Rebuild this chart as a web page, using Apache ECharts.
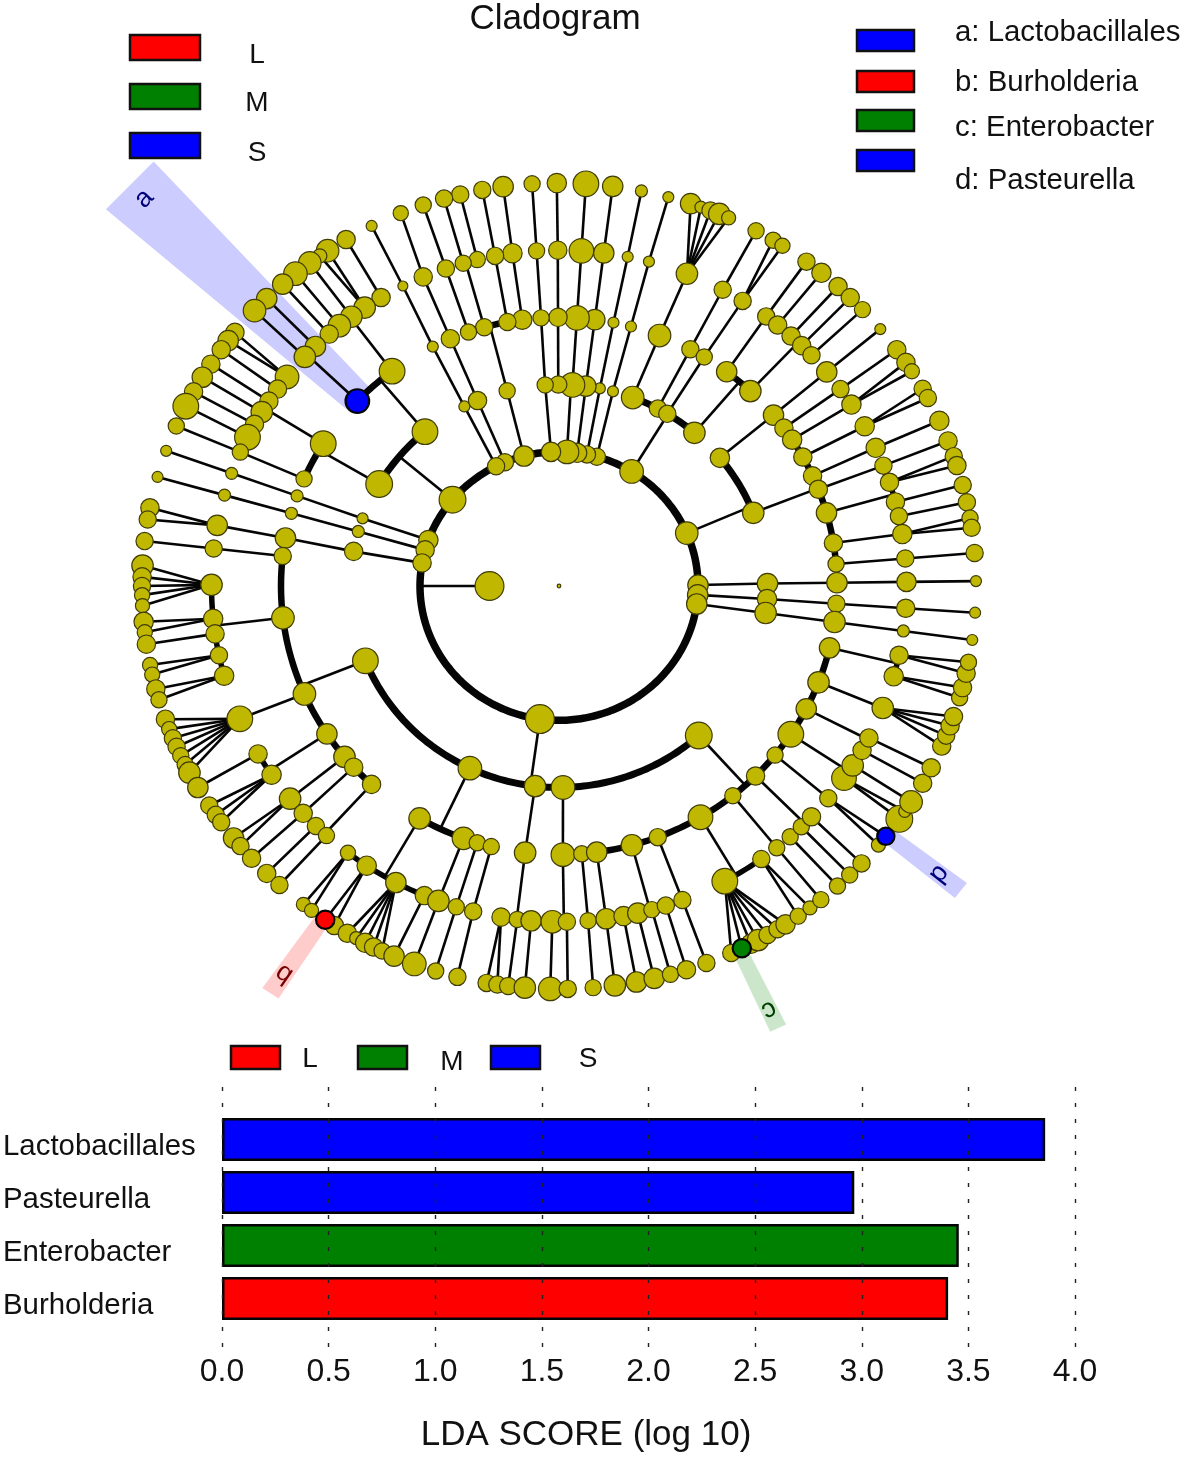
<!DOCTYPE html>
<html>
<head>
<meta charset="utf-8">
<style>html,body{margin:0;padding:0;background:#fff}#chart{width:1184px;height:1457px}</style>
<script src="https://cdn.jsdelivr.net/npm/echarts@6/dist/echarts.min.js"></script>
</head>
<body>
<div id="chart"></div>
<script>
// Clade tables: [angle in degrees, abundance, angle of the parent clade in the previous ring]
const ring1Clades = [[180,27]];
const ring2Clades = [[0.4,19,180],[356.2,19,180],[352.3,19,180],[23.2,21,180],[58.5,22,180],[74.2,16,180],[78.4,16,180],[82.5,18,180],[86.7,22,180],[93.3,18,180],[104.6,19,180],[112.9,16,180],[116.9,16,180],[140,25,180],[160,18,180],[164.4,17,180],[170.1,17,180],[262.1,27,180]];
const ring3Clades = [[0.7,19,0.4],[356.3,18,356.2],[352.3,20,352.3],[39.5,18,23.2],[21.3,20,23.2],[69.3,21,58.5],[61.7,16,58.5],[58.7,16,58.5],[49.5,20,58.5],[75,10,74.2],[78.7,10,78.4],[82.6,19,82.5],[86.3,23,86.7],[90.2,16,86.7],[93.8,15,93.3],[104.4,15,104.6],[113,17,112.9],[117,10,116.9],[130,24,140],[149.6,25,140],[160.4,10,160],[164.3,11,164.4],[170.1,17,170.1],[201.8,24,262.1],[244.7,22,262.1],[263.4,20,262.1],[271.1,22,262.1],[312.1,25,262.1]];
const ring4Clades = [[0.7,19,0.7],[356.2,16,356.3],[352.3,20,352.3],[39.5,19,39.5],[36,17,21.3],[33,18,21.3],[28.7,17,21.3],[24.2,17,21.3],[21.1,17,21.3],[15.8,19,21.3],[9.2,17,21.3],[4.7,15,21.3],[68.8,21,69.3],[61.8,16,61.7],[58.5,15,58.7],[52.9,19,49.5],[46.5,20,49.5],[75,10,75],[78.7,10,78.7],[82.6,19,82.6],[86.3,23,86.3],[90.2,17,90.2],[93.7,15,93.8],[97.6,18,104.4],[100.7,16,104.4],[105.6,16,104.4],[109,15,104.4],[113,17,113],[117,10,117],[136.5,22,130],[126.9,24,130],[148,24,149.6],[156.5,15,149.6],[160.4,11,160.4],[164.3,11,164.3],[169.7,19,170.1],[173.6,16,201.8],[186.8,21,201.8],[203.7,21,201.8],[213.4,19,201.8],[219.5,20,201.8],[222.4,17,201.8],[227.6,17,201.8],[239.9,20,244.7],[249.9,21,244.7],[252.9,15,244.7],[255.9,15,244.7],[263,20,263.4],[270.8,22,271.1],[274.7,15,312.1],[277.8,19,312.1],[285.2,20,312.1],[290.8,16,312.1],[300.6,23,312.1],[308.7,15,312.1],[315,17,312.1],[321,15,312.1],[326.5,24,312.1],[332.8,19,312.1],[339,20,312.1],[346.7,19,312.1]];
const ring5Clades = [[0.7,18,0.7],[356.2,17,356.2],[352.3,11,352.3],[39.6,19,39.5],[35.9,16,36],[32.7,18,33],[28.4,18,28.7],[24.3,18,24.2],[21,16,21.1],[18,17,15.8],[14.5,17,15.8],[12,16,15.8],[8.9,18,9.2],[4.7,16,4.7],[68.4,20,68.8],[61.9,16,61.8],[58.1,16,58.5],[53.4,16,52.9],[51,17,46.5],[48.1,17,46.5],[45.7,17,46.5],[43.4,16,46.5],[75,10,75],[78.6,10,78.7],[82.6,19,82.6],[86.3,23,86.3],[90.2,17,90.2],[93.7,15,93.7],[97.7,18,97.6],[100.6,16,100.7],[103.6,15,105.6],[106,15,105.6],[109,16,109],[113,17,113],[116.7,9,117],[120.8,17,126.9],[124,20,126.9],[126.7,20,126.9],[129.2,21,126.9],[131.4,17,126.9],[134.5,19,136.5],[137,20,136.5],[141.5,22,148],[144.1,17,148],[146.6,17,148],[148.8,20,148],[151.2,17,148],[153.7,24,148],[156.5,15,156.5],[160.4,11,160.4],[164.3,11,164.3],[169.6,19,169.7],[173.6,16,173.6],[179.8,20,186.8],[185.6,18,186.8],[188.2,17,186.8],[191.9,16,186.8],[195.5,18,186.8],[203.3,24,203.7],[210,17,213.4],[214.2,18,213.4],[219.3,20,219.5],[222.6,17,222.4],[225.6,16,227.6],[228,15,227.6],[232.6,14,239.9],[236.4,18,239.9],[242,19,239.9],[247.2,17,239.9],[249.7,20,249.9],[252.8,15,252.9],[255.7,16,255.9],[260.4,17,263],[263.1,15,263],[265.4,19,263],[268.9,21,270.8],[271.3,16,270.8],[274.8,15,274.7],[277.8,19,277.8],[280.7,18,285.2],[283.1,19,285.2],[285.5,15,285.2],[287.9,16,285.2],[290.8,16,290.8],[298.5,24,300.6],[305.6,16,300.6],[308.8,15,308.7],[311.7,15,315],[314.2,15,315],[316.6,17,315],[320.8,16,321],[325.1,23,326.5],[327.7,20,326.5],[330.7,17,332.8],[333.1,17,332.8],[338.7,20,339],[344.4,18,346.7],[348.1,17,346.7]];
const ring6Clades = [[0.7,10,0.7],[356.2,10,356.2],[352.3,10,352.3],[39.6,10,39.6],[35.9,17,35.9],[33.7,17,32.7],[32.2,14,32.7],[29.3,16,28.4],[27.8,16,28.4],[24.2,18,24.3],[21.1,17,21],[18.8,16,18],[17.4,17,18],[14.5,16,14.5],[12,16,12],[9.7,15,8.9],[8.3,16,8.9],[4.7,16,4.7],[71.6,19,68.4],[70.1,11,68.4],[68.7,16,68.4],[67.4,20,68.4],[66,13,68.4],[61.8,15,61.9],[59.1,15,58.1],[57.6,14,58.1],[53.6,16,53.4],[51,18,51],[48,17,48.1],[45.7,17,45.7],[43.3,15,43.4],[74.8,10,75],[78.6,11,78.6],[82.6,19,82.6],[86.3,24,86.3],[90.3,18,90.2],[93.7,15,93.7],[97.7,19,97.7],[100.6,16,100.6],[103.7,16,103.6],[106,16,106],[109,15,109],[112.3,14,113],[116.7,10,116.7],[120.7,17,120.8],[123.7,21,124],[125,13,124],[126.7,21,126.7],[129.2,22,129.2],[131.5,19,131.4],[134.5,19,134.5],[136.9,21,137],[141,17,141.5],[142.5,19,141.5],[144.1,17,144.1],[146.6,17,146.6],[148.8,19,148.8],[151.2,17,151.2],[153.5,24,153.7],[156.6,15,156.5],[160.4,10,160.4],[164.3,10,164.3],[168.8,17,169.6],[170.5,16,169.6],[173.6,16,173.6],[177.1,20,179.8],[178.7,17,179.8],[180,16,179.8],[181.3,14,179.8],[182.8,13,179.8],[185.1,18,185.6],[186.6,14,185.6],[188.3,17,188.2],[191.3,14,191.9],[192.7,14,191.9],[194.8,17,195.5],[196.4,15,195.5],[199.3,17,203.3],[200.8,14,203.3],[202.2,16,203.3],[203.5,16,203.3],[204.9,15,203.3],[206.3,15,203.3],[207.6,20,203.3],[210,19,210],[213,16,214.2],[214.6,16,214.2],[215.9,16,214.2],[218.7,19,219.3],[220.2,16,219.3],[222.5,17,222.6],[225.5,17,225.6],[227.9,16,228],[232.2,13,232.6],[233.6,13,232.6],[235.9,17,236.4],[237.4,17,236.4],[239.5,17,242],[240.9,12,242],[242.3,18,242],[243.6,17,242],[244.9,15,242],[246.7,19,247.2],[249.7,22,249.7],[252.8,15,252.8],[255.9,16,255.7],[260,16,260.4],[261.5,16,260.4],[263,16,263.1],[265.3,20,265.4],[268.8,22,268.9],[271.2,16,271.3],[274.7,15,274.8],[277.7,20,277.8],[280.7,19,280.7],[283.2,19,283.1],[285.5,15,285.5],[287.8,17,287.9],[290.7,16,290.8],[294.4,16,298.5],[296,17,298.5],[297.4,18,298.5],[298.5,20,298.5],[300,16,298.5],[301.6,16,298.5],[302.9,18,298.5],[305,15,305.6],[307,13,305.6],[308.9,15,308.8],[311.9,15,311.7],[314.2,15,314.2],[316.5,16,316.6],[320,13,320.8],[321.6,16,320.8],[324.7,25,325.1],[326,11,325.1],[327.6,21,327.7],[330.7,17,330.7],[333.2,17,333.1],[336.6,17,338.7],[338.2,16,338.7],[339.7,17,338.7],[341.1,17,338.7],[343.9,15,344.4],[345.4,17,344.4],[347.5,17,348.1],[349.1,15,348.1]];

// Enriched clades: key, taxon, ring, angle, class
const enrichedClades = [['a','Lactobacillales',4,136.5,'S'],['b','Burholderia',6,235.9,'L'],['c','Enterobacter',6,296,'M'],['d','Pasteurella',6,321.6,'S']];
// Highlight sectors: key, centre angle, half span, end ring, label ring
const highlightSectors = [['a',136,3.3,8.6,8.3],['b',235.6,1.1,7.35,7],['c',295.6,1,7.3,7],['d',321.9,1.1,7.35,6.95]];

// LDA bars
const barTaxa = ['Lactobacillales','Pasteurella','Enterobacter','Burholderia'];
const barScores = [3.86,2.965,3.455,3.405];
const barClasses = ['S','S','M','L'];
const classNames = ['L','M','S'];
const classColors = {L:'#ff0000',M:'#008000',S:'#0000ff'};

const allRings = [null,ring1Clades,ring2Clades,ring3Clades,ring4Clades,ring5Clades,ring6Clades];
const toXY = (ring,deg)=>[ring*Math.cos(deg*Math.PI/180),ring*Math.sin(deg*Math.PI/180)];
const arcWidth = {2:7.5,3:7,4:6.5,5:5.5};
const edges = [];
for(let ring=2;ring<=6;ring++){
  const parentAngles=[...new Set(allRings[ring].map(c=>c[2]))];
  parentAngles.forEach(pa=>{
    const kids=allRings[ring].filter(c=>c[2]===pa).map(c=>c[0]);
    if(ring===6||kids.length===1){
      kids.forEach(k=>edges.push({pts:[toXY(ring-1,pa),toXY(ring,k)],w:2.6}));
      return;
    }
    let lo=Math.min(...kids),hi=Math.max(...kids);
    if(ring===2){lo=0;hi=360;}
    const arc=[];
    for(let a=lo;a<hi;a+=1)arc.push(toXY(ring,a));
    arc.push(toXY(ring,hi));
    edges.push({pts:arc,w:arcWidth[ring]});
    edges.push({pts:[toXY(ring-1,pa),toXY(ring,pa)],w:2.6});
  });
}
const isEnriched=(ring,a)=>enrichedClades.some(e=>e[2]===ring&&e[3]===a);
const nodes=[[0,0,3]];
for(let ring=1;ring<=6;ring++){
  allRings[ring].forEach(c=>{ if(!isEnriched(ring,c[0])) nodes.push([...toXY(ring,c[0]),c[1]]); });
}
const sizeOf=(ring,a)=>allRings[ring].find(c=>c[0]===a)[1];
const markSize=v=>v[2]*1.05+0.5;

const sectorSeries={
  type:'custom',coordinateSystem:'cartesian2d',xAxisIndex:0,yAxisIndex:0,z:1,silent:true,clip:false,
  data:highlightSectors.map((s,i)=>[0,0,i]),encode:{x:0,y:1},
  renderItem(p,api){
    const s=highlightSectors[api.value(2)];
    const cls=enrichedClades.find(e=>e[0]===s[0]);
    const base=cls[2];
    const pts=[[base,s[1]-s[2]],[s[3],s[1]-s[2]],[s[3],s[1]+s[2]],[base,s[1]+s[2]]].map(q=>api.coord(toXY(q[0],q[1])));
    const lab=api.coord(toXY(s[4],s[1]));
    const c=classColors[cls[4]];
    const dark={S:'#00007a',L:'#7a0000',M:'#004000'}[cls[4]];
    return {type:'group',children:[
      {type:'polygon',shape:{points:pts},style:{fill:c,opacity:0.2}},
      {type:'text',x:lab[0],y:lab[1],rotation:(s[1]-90)*Math.PI/180,originX:0,originY:0,
       style:{text:s[0],fill:dark,font:'27px "Liberation Sans"',align:'center',verticalAlign:'middle'}}
    ]};
  }
};
const edgeSeries={
  type:'custom',coordinateSystem:'cartesian2d',xAxisIndex:0,yAxisIndex:0,z:2,silent:true,clip:false,
  data:edges.map((e,i)=>[0,0,i]),encode:{x:0,y:1},
  renderItem(p,api){
    const e=edges[api.value(2)];
    return {type:'polyline',shape:{points:e.pts.map(q=>api.coord(q))},style:{stroke:'#050505',lineWidth:e.w,fill:null,lineJoin:'round'}};
  }
};
const nodeSeries={
  type:'scatter',xAxisIndex:0,yAxisIndex:0,z:3,silent:true,data:nodes,symbol:'circle',
  symbolSize:markSize,itemStyle:{color:'#bfb700',borderColor:'#403c08',borderWidth:1.2,opacity:1}
};
const enrichedSeries=classNames.map(n=>({
  name:n,type:'scatter',xAxisIndex:0,yAxisIndex:0,z:4,silent:true,symbol:'circle',
  data:enrichedClades.filter(e=>e[4]===n).map(e=>[...toXY(e[2],e[3]),sizeOf(e[2],e[3])]),
  symbolSize:markSize,itemStyle:{color:classColors[n],borderColor:'#050505',borderWidth:2.2,opacity:1}
}));
const barSeries={
  type:'bar',xAxisIndex:2,yAxisIndex:2,z:2,barWidth:43,silent:true,
  data:barScores.map((v,i)=>({value:v,itemStyle:{color:classColors[barClasses[i]]}})),
  itemStyle:{borderColor:'#050505',borderWidth:2.5}
};

const swatch=(x,y,w,h,c)=>({type:'rect',x,y,shape:{width:w,height:h},style:{fill:c,stroke:'#111',lineWidth:2.5},z:10});
const label=(x,y,t,size,align)=>({type:'text',x,y,z:10,style:{text:t,fill:'#111',font:size+'px "Liberation Sans"',align:align||'left',verticalAlign:'middle'}});
const graphics=[];
[35,84,133].forEach((y,i)=>{
  graphics.push(swatch(130,y,70,25,classColors[classNames[i]]));
  graphics.push(label(257,[55,103,153][i],classNames[i],28,'center'));
});
[[30,83,33],[71,84,83],[110,128,128],[150,181,181]].forEach((r,i)=>{
  const e=enrichedClades[i];
  graphics.push(swatch(857,r[0],57,21,classColors[e[4]]));
  graphics.push(label(955,r[2],e[0]+': '+e[1],29.4));
});
[[231,310,1059],[358,452,1062],[491,588,1059]].forEach((r,i)=>{
  graphics.push(swatch(r[0],1046,49,23,classColors[classNames[i]]));
  graphics.push(label(r[1],r[2],classNames[i],28,'center'));
});
graphics.push(label(586,1435,'LDA SCORE (log 10)',35,'center'));

const chart=echarts.init(document.getElementById('chart'),null,{width:1184,height:1457});
chart.setOption({
  animation:false,
  backgroundColor:'#fff',
  title:{text:'Cladogram',left:550,top:-3,textAlign:'center',textStyle:{fontFamily:'Liberation Sans',fontWeight:'normal',fontSize:35,color:'#111'}},
  grid:[
    {left:142,top:183,width:834,height:806},
    {left:222,top:1087,width:853,height:265},
    {left:222,top:1113,width:853,height:212},
    {left:222,top:1120,width:853,height:212}
  ],
  xAxis:[
    {gridIndex:0,type:'value',min:-6,max:6,show:false},
    {gridIndex:1,type:'value',min:0,max:4,interval:0.5,z:6,
     axisLine:{show:false},axisTick:{show:false},
     splitLine:{show:true,lineStyle:{color:'#222',width:1.4,type:[4,12]}},
     axisLabel:{margin:4,color:'#111',fontFamily:'Liberation Sans',fontSize:32,formatter:v=>v.toFixed(1)}},
    {gridIndex:2,type:'value',min:0,max:4,show:false},
    {gridIndex:3,type:'value',min:0,max:4,show:false}
  ],
  yAxis:[
    {gridIndex:0,type:'value',min:-6,max:6,show:false},
    {gridIndex:1,type:'value',min:0,max:1,show:false},
    {gridIndex:2,type:'category',inverse:true,data:barTaxa,show:false},
    {gridIndex:3,type:'category',inverse:true,data:barTaxa,
     axisLine:{show:false},axisTick:{show:false},splitLine:{show:false},
     axisLabel:{align:'left',margin:220,color:'#111',fontFamily:'Liberation Sans',fontSize:29.4}}
  ],
  series:[sectorSeries,edgeSeries,nodeSeries,...enrichedSeries,barSeries],
  graphic:{elements:graphics}
});
</script>
</body>
</html>
